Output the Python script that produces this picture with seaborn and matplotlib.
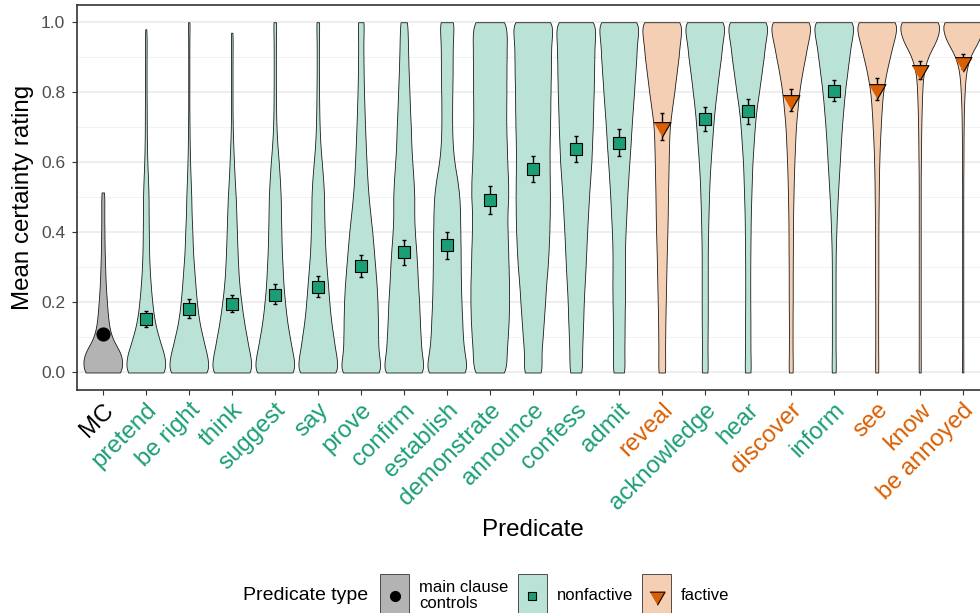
import numpy as np
import pandas as pd
import matplotlib
matplotlib.use("Agg")
import matplotlib.pyplot as plt
from matplotlib.patches import Rectangle
from matplotlib.lines import Line2D
import seaborn as sns

# ---------------------------------------------------------------------------
# Data
# ---------------------------------------------------------------------------
predicates = ["MC", "pretend", "be right", "think", "suggest", "say", "prove",
              "confirm", "establish", "demonstrate", "announce", "confess",
              "admit", "reveal", "acknowledge", "hear", "discover", "inform",
              "see", "know", "be annoyed"]

pred_type = ["mc", "nonfactive", "nonfactive", "nonfactive", "nonfactive",
             "nonfactive", "nonfactive", "nonfactive", "nonfactive",
             "nonfactive", "nonfactive", "nonfactive", "nonfactive",
             "factive", "nonfactive", "nonfactive", "factive", "nonfactive",
             "factive", "factive", "factive"]

mean_rating = [0.111, 0.154, 0.182, 0.195, 0.222, 0.245, 0.304, 0.343, 0.363,
               0.493, 0.581, 0.639, 0.656, 0.702, 0.725, 0.747, 0.779, 0.805,
               0.810, 0.863, 0.887]
ci_low = [0.100, 0.130, 0.155, 0.173, 0.195, 0.215, 0.272, 0.307, 0.325,
          0.453, 0.543, 0.601, 0.618, 0.664, 0.690, 0.710, 0.747, 0.774,
          0.778, 0.839, 0.866]
ci_high = [0.122, 0.176, 0.211, 0.220, 0.252, 0.275, 0.335, 0.378, 0.402,
           0.532, 0.619, 0.676, 0.694, 0.740, 0.759, 0.781, 0.810, 0.835,
           0.842, 0.888, 0.909]

# highest rating given for each predicate
max_rating = [0.514, 0.98, 1.0, 0.97, 1.0, 1.0, 1.0, 1.0, 1.0, 1.0, 1.0, 1.0,
              1.0, 1.0, 1.0, 1.0, 1.0, 1.0, 1.0, 1.0, 1.0]

# number of ratings at each rating level
rating_levels = [0.00, 0.05, 0.10, 0.15, 0.20, 0.25, 0.30, 0.35, 0.40, 0.45,
                 0.50, 0.55, 0.60, 0.65, 0.70, 0.75, 0.80, 0.85, 0.90, 0.95,
                 1.00]
n_mc = [115, 110, 45, 30, 23, 16, 13, 10, 9, 8, 9, 0, 0, 0, 0, 0, 0, 0, 0, 0, 0]
n_pretend = [115, 100, 68, 45, 34, 26, 20, 17, 16, 15, 15, 12, 8, 6, 5, 5, 4, 4, 4, 5, 0]
n_be_right = [120, 100, 76, 55, 44, 36, 29, 22, 20, 15, 14, 10, 7, 5, 4, 3, 3, 3, 3, 3, 4]
n_think = [120, 100, 82, 65, 52, 41, 35, 31, 28, 25, 22, 16, 12, 8, 5, 4, 4, 4, 4, 5, 0]
n_suggest = [120, 100, 82, 66, 56, 47, 43, 38, 36, 34, 33, 28, 22, 14, 9, 7, 6, 6, 6, 6, 8]
n_say = [120, 100, 86, 72, 63, 56, 48, 41, 38, 35, 35, 30, 22, 14, 10, 8, 7, 6, 6, 6, 8]
n_prove = [125, 99, 97, 96, 94, 89, 81, 73, 65, 54, 44, 37, 32, 28, 24, 21, 18, 16, 15, 14, 18]
n_confirm = [125, 100, 95, 90, 87, 80, 76, 70, 62, 58, 60, 55, 48, 42, 40, 35, 32, 28, 25, 23, 20]
n_establish = [125, 100, 90, 87, 82, 80, 78, 78, 76, 75, 72, 60, 42, 33, 30, 30, 31, 33, 33, 34, 42]
n_demonstrate = [88, 86, 93, 98, 100, 100, 97, 95, 92, 90, 96, 95, 90, 88, 85, 85, 86, 86, 87, 88, 88]
n_announce = [53, 45, 54, 60, 67, 72, 81, 86, 90, 92, 93, 92, 91, 91, 94, 95, 96, 98, 99, 100, 116]
n_confess = [35, 33, 36, 40, 42, 47, 52, 56, 60, 65, 70, 76, 83, 86, 90, 92, 95, 97, 98, 100, 110]
n_admit = [35, 30, 32, 32, 34, 35, 34, 34, 37, 42, 46, 52, 58, 65, 70, 77, 84, 90, 97, 100, 119]
n_reveal = [21, 18, 19, 20, 22, 24, 26, 28, 31, 33, 34, 36, 38, 40, 43, 55, 69, 80, 93, 100, 119]
n_acknowledge = [19, 15, 16, 17, 17, 17, 17, 17, 19, 21, 24, 27, 33, 40, 47, 55, 67, 78, 92, 100, 124]
n_hear = [19, 15, 15, 15, 14, 14, 14, 15, 16, 17, 20, 23, 26, 33, 39, 48, 63, 76, 90, 99, 124]
n_discover = [13, 10, 10, 10, 11, 11, 11, 12, 12, 13, 15, 17, 20, 24, 28, 37, 46, 61, 80, 97, 123]
n_inform = [13, 10, 10, 10, 10, 10, 10, 11, 14, 17, 22, 27, 33, 38, 44, 52, 60, 72, 84, 96, 120]
n_see = [10, 8, 8, 8, 8, 9, 9, 9, 9, 10, 11, 12, 14, 17, 22, 27, 34, 50, 72, 95, 124]
n_know = [6, 5, 5, 5, 5, 5, 5, 5, 5, 5, 5, 5, 6, 7, 8, 10, 13, 17, 38, 90, 116]
n_be_annoyed = [4, 3, 3, 3, 3, 3, 3, 3, 3, 3, 3, 3, 4, 4, 5, 6, 10, 15, 33, 90, 120]

rating_counts = [n_mc, n_pretend, n_be_right, n_think, n_suggest, n_say,
                 n_prove, n_confirm, n_establish, n_demonstrate, n_announce,
                 n_confess, n_admit, n_reveal, n_acknowledge, n_hear,
                 n_discover, n_inform, n_see, n_know, n_be_annoyed]

# ---------------------------------------------------------------------------
# Styling
# ---------------------------------------------------------------------------
type_color = {"mc": "#000000", "nonfactive": "#1b9e77", "factive": "#d95f02"}
type_fill = {"mc": "#b3b3b3", "nonfactive": "#bbe2d6", "factive": "#f4cfb3"}
tri_down = [(-1.0, 0.577), (1.0, 0.577), (0.0, -1.155)]
type_marker = {"mc": ("o", 9.4), "nonfactive": ("s", 8.0), "factive": (tri_down, 14.0)}
KDE_BW = 0.03

sns.set_theme(style="white")
plt.rcParams["font.family"] = ["Liberation Sans", "DejaVu Sans"]

W, H = 980, 613
fig = plt.figure(figsize=(W / 100, H / 100), dpi=100)
ax_left, ax_right, ax_top, ax_bottom = 77, 988.5, 4.7, 390
ax = fig.add_axes([ax_left / W, 1 - ax_bottom / H,
                   (ax_right - ax_left) / W, (ax_bottom - ax_top) / H])

# long-format ratings table
rows = []
for pred, counts, top in zip(predicates, rating_counts, max_rating):
    vals = np.repeat(rating_levels, counts)
    vals = np.append(vals, top)
    rows.append(pd.DataFrame({"predicate": pred, "rating": vals}))
ratings = pd.concat(rows, ignore_index=True)

# violins
for pred, ptype in zip(predicates, pred_type):
    sub = ratings[ratings["predicate"] == pred]
    bw = KDE_BW / sub["rating"].std()
    sns.violinplot(data=sub, x="predicate", y="rating", order=predicates,
                   color=type_fill[ptype], saturation=1, cut=0, inner=None,
                   density_norm="width", width=0.9, bw_method=bw,
                   linecolor="#1a1a1a", linewidth=0.6, ax=ax)

xpos = np.arange(len(predicates))
means = np.array(mean_rating)
lo = np.array(ci_low)
hi = np.array(ci_high)
ax.errorbar(xpos, means, yerr=[means - lo, hi - means], fmt="none",
            ecolor="black", elinewidth=1.0, capsize=1.6, capthick=1.0, zorder=3)

for t in ["mc", "nonfactive", "factive"]:
    idx = [i for i, p in enumerate(pred_type) if p == t]
    m, ms = type_marker[t]
    ax.plot(xpos[idx], means[idx], linestyle="none", marker=m, markersize=ms,
            markerfacecolor=type_color[t], markeredgecolor="black",
            markeredgewidth=0.8, zorder=4)

# axes
ax.set_xlim(-0.6, len(predicates) - 0.4)
ax.set_ylim(-0.05, 1.05)
ax.set_yticks([0.0, 0.2, 0.4, 0.6, 0.8, 1.0])
ax.set_yticklabels(["0.0", "0.2", "0.4", "0.6", "0.8", "1.0"],
                   fontsize=12.5, color="#4d4d4d")
ax.set_yticks([0.1, 0.3, 0.5, 0.7, 0.9], minor=True)
ax.set_axisbelow(True)
ax.grid(False)
ax.yaxis.grid(True, which="major", color="#ebebeb", linewidth=1.2)
ax.yaxis.grid(True, which="minor", color="#f2f2f2", linewidth=0.7)
ax.xaxis.grid(False)

ax.set_xticks(xpos)
ax.set_xticklabels(predicates, rotation=45, ha="right", va="top",
                   rotation_mode="anchor", fontsize=17.4)
for lbl, t in zip(ax.get_xticklabels(), pred_type):
    lbl.set_color(type_color[t])

ax.tick_params(axis="both", which="major", length=3.5, width=0.8,
               color="#333333", direction="out", bottom=True, left=True)
ax.tick_params(axis="x", pad=3)
ax.tick_params(axis="y", pad=5)
ax.tick_params(which="minor", length=0)
for s in ax.spines.values():
    s.set_color("#333333")
    s.set_linewidth(1.2)

ax.set_xlabel("Predicate", fontsize=17.4, color="black")
ax.xaxis.set_label_coords(532.7 / W, 1 - 519 / H, transform=fig.transFigure)
ax.set_ylabel("Mean certainty rating", fontsize=17.4, color="black")
ax.yaxis.set_label_coords(34 / W, 0.5 * (2 - (ax_top + ax_bottom) / H),
                          transform=fig.transFigure)

# legend
def fx(x):
    return x / W


def fy(y):
    return 1 - y / H


fig.text(fx(243), fy(596), "Predicate type", fontsize=14, va="center",
         ha="left", color="black")
legend_items = [("mc", 380, "main clause\ncontrols", 419, 7.2),
                ("nonfactive", 517.5, "nonfactive", 557, 6.3),
                ("factive", 642, "factive", 681, 12.6)]
for t, bx, label, tx, ms in legend_items:
    fig.add_artist(Rectangle((fx(bx), fy(614)), 29 / W, 40 / H,
                             transform=fig.transFigure, facecolor=type_fill[t],
                             edgecolor="#333333", linewidth=0.6))
    m, _ = type_marker[t]
    fig.add_artist(Line2D([fx(bx + 14.5)], [fy(595.5)], transform=fig.transFigure,
                          linestyle="none", marker=m, markersize=ms,
                          markerfacecolor=type_color[t], markeredgecolor="black",
                          markeredgewidth=0.8))
    fig.text(fx(tx), fy(595.5), label, fontsize=12, va="center", ha="left",
             color="black", linespacing=1.0)

fig.savefig("out.png", dpi=100)
